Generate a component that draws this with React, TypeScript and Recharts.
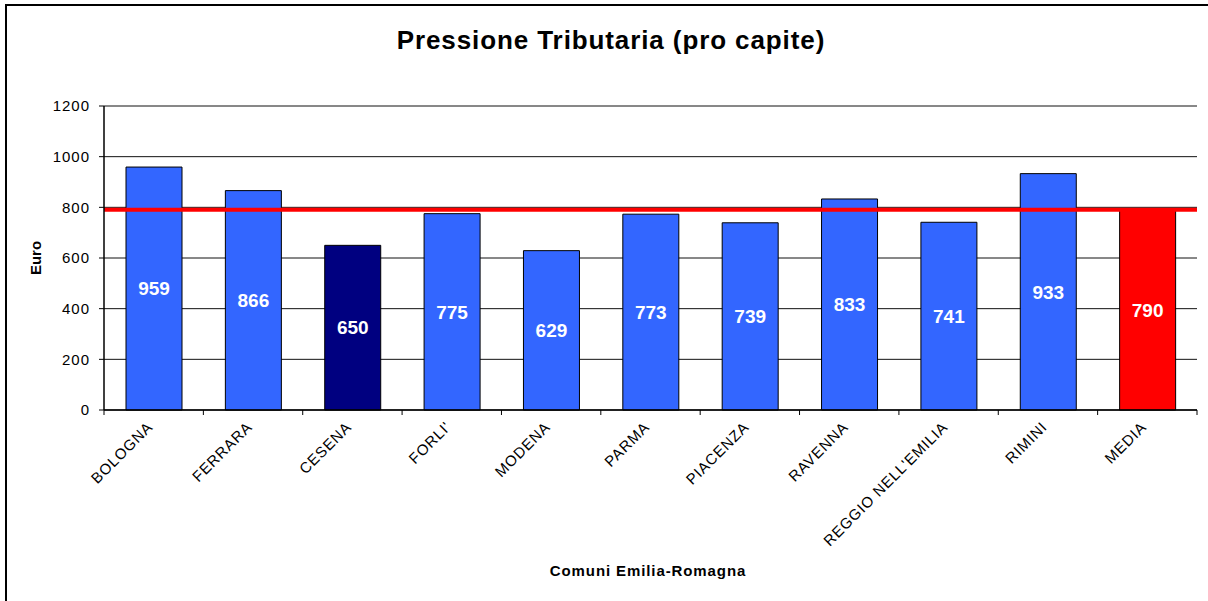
import React from "react";
import {
  BarChart,
  Bar,
  XAxis,
  YAxis,
  CartesianGrid,
  ReferenceLine,
  LabelList,
  Cell,
} from "recharts";

const comuni = [
  "BOLOGNA",
  "FERRARA",
  "CESENA",
  "FORLI'",
  "MODENA",
  "PARMA",
  "PIACENZA",
  "RAVENNA",
  "REGGIO NELL'EMILIA",
  "RIMINI",
  "MEDIA",
];
const pressione = [959, 866, 650, 775, 629, 773, 739, 833, 741, 933, 790];
const yTicks = [0, 200, 400, 600, 800, 1000, 1200];

const data = comuni.map((name, i) => ({ name, value: pressione[i] }));
const media = pressione[comuni.indexOf("MEDIA")];

const FONT = '"Liberation Sans", Arial, sans-serif';
const W = 1208;
const H = 601;
const M = { top: 106, right: 11, bottom: 41, left: 44 };
const Y_W = 60;
const X_H = 150;
const BAND = (W - M.left - Y_W - M.right) / comuni.length;

const barFill = (name: string) =>
  name === "MEDIA" ? "#ff0000" : name === "CESENA" ? "#000080" : "#3366ff";

const XTick = ({ x, y, payload, index }: any) => (
  <g>
    <line x1={x - BAND / 2} x2={x - BAND / 2} y1={y} y2={y + 5} stroke="#000" />
    {index === comuni.length - 1 && (
      <line x1={x + BAND / 2} x2={x + BAND / 2} y1={y} y2={y + 5} stroke="#000" />
    )}
    <text
      transform={`translate(${x},${y + 18}) rotate(-45)`}
      textAnchor="end"
      fontSize={15}
      letterSpacing={0.8}
      fontFamily={FONT}
      fill="#000"
    >
      {payload.value}
    </text>
  </g>
);

export default function App() {
  return (
    <div
      style={{
        position: "absolute",
        left: 0,
        top: 0,
        width: W,
        height: H,
        overflow: "hidden",
        background: "#fff",
        fontFamily: FONT,
      }}
    >
      <div
        style={{
          position: "absolute",
          left: 5,
          top: 4,
          width: 1300,
          height: 700,
          border: "2px solid #000",
        }}
      />
      <div
        style={{
          position: "absolute",
          top: 25,
          left: 0,
          width: W + 14,
          textAlign: "center",
          fontSize: 26,
          fontWeight: "bold",
          letterSpacing: 0.9,
        }}
      >
        Pressione Tributaria (pro capite)
      </div>
      <div
        style={{
          position: "absolute",
          left: 35,
          top: 258,
          transform: "translate(-50%,-50%) rotate(-90deg)",
          fontSize: 15,
          fontWeight: "bold",
        }}
      >
        Euro
      </div>
      <div
        style={{
          position: "absolute",
          top: 562,
          left: 648 - 200,
          width: 400,
          textAlign: "center",
          fontSize: 15,
          fontWeight: "bold",
          letterSpacing: 0.9,
        }}
      >
        Comuni Emilia-Romagna
      </div>
      <div style={{ position: "absolute", left: 0, top: 0 }}>
        <BarChart width={W} height={H} data={data} margin={M} barSize={56}>
          <CartesianGrid vertical={false} stroke="#111" />
          <XAxis
            dataKey="name"
            interval={0}
            height={X_H}
            tickLine={false}
            tickSize={0}
            tickMargin={0}
            axisLine={{ stroke: "#000", strokeWidth: 1.5 }}
            tick={<XTick />}
          />
          <YAxis
            width={Y_W}
            domain={[0, 1200]}
            ticks={yTicks}
            tickSize={5}
            tickMargin={9}
            axisLine={{ stroke: "#000", strokeWidth: 1.5 }}
            tickLine={{ stroke: "#000" }}
            tick={{ fontSize: 15, fill: "#000", fontFamily: FONT, letterSpacing: 1 }}
          />
          <YAxis
            yAxisId="right"
            orientation="right"
            width={0}
            tick={false}
            tickLine={false}
            axisLine={{ stroke: "#000", strokeWidth: 1.5 }}
          />
          <Bar
            dataKey="value"
            stroke="#000"
            strokeWidth={1}
            isAnimationActive={false}
          >
            {data.map((d) => (
              <Cell key={d.name} fill={barFill(d.name)} />
            ))}
            <LabelList
              dataKey="value"
              position="center"
              fill="#fff"
              fontSize={19}
              fontWeight="bold"
              fontFamily={FONT}
            />
          </Bar>
          <ReferenceLine y={media} stroke="#ff0000" strokeWidth={4} />
        </BarChart>
      </div>
    </div>
  );
}
